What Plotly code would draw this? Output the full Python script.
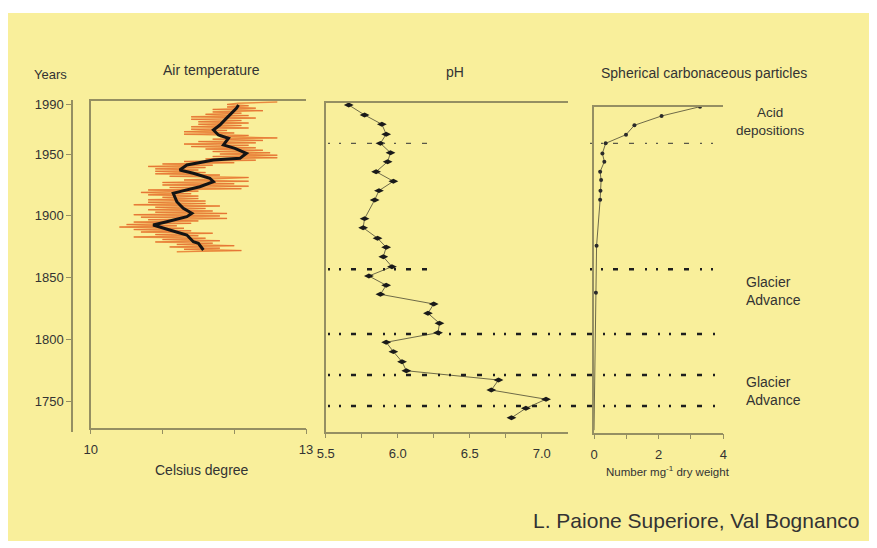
import plotly.graph_objects as go

W, H = 877, 548

# ---------------- data ----------------
temp_years = list(range(1871, 1993))
temp_annual = [
    11.2, 12.1, 11.3, 11.8, 11.1, 12.0, 11.2, 11.7, 10.9, 11.8,   # 1871-1880
    11.0, 11.6, 10.6, 11.5, 10.9, 11.7, 10.7, 11.4, 10.6, 11.3,   # 1881-1890
    10.4, 11.2, 10.5, 11.4, 10.6, 11.5, 10.8, 11.9, 10.7, 11.8,   # 1891-1900
    10.6, 11.9, 10.9, 11.7, 10.8, 11.6, 10.9, 11.8, 10.6, 11.6,   # 1901-1910
    10.8, 11.6, 10.8, 11.5, 11.0, 11.5, 10.8, 11.4, 10.7, 11.5,   # 1911-1920
    10.8, 12.1, 11.1, 12.2, 11.0, 12.0, 11.0, 12.2, 11.3, 11.9,   # 1921-1930
    12.2, 11.1, 11.8, 10.9, 11.6, 10.9, 11.5, 10.9, 11.6, 10.8,   # 1931-1940
    11.7, 11.0, 12.0, 11.3, 12.3, 11.6, 12.6, 11.7, 12.6, 11.8,   # 1941-1950
    12.5, 11.7, 12.4, 11.6, 12.3, 11.4, 12.2, 11.3, 12.3, 11.5,   # 1951-1960
    12.4, 11.7, 12.6, 11.8, 12.2, 11.3, 12.0, 11.3, 11.9, 11.4,   # 1961-1970
    12.2, 11.4, 12.1, 11.5, 12.2, 11.5, 12.1, 11.4, 12.3, 11.4,   # 1971-1980
    12.2, 11.6, 12.1, 11.7, 12.4, 11.7, 12.3, 11.9, 12.2, 11.9,   # 1981-1990
    12.05, 12.6,                                                  # 1991-1992
]

smooth_years = [1989.6, 1986.9, 1978.8, 1973.4, 1969.4, 1965.3, 1962.7, 1957.3,
                1954.6, 1950.6, 1946.5, 1945.2, 1941.1, 1937.1, 1934.4, 1930.4,
                1927.6, 1923.6, 1919.6, 1918.3, 1911.5, 1906.2, 1902.1, 1899.4,
                1895.3, 1892.7, 1888.6, 1884.6, 1879.2, 1877.9, 1872.5]
smooth_temp = [12.06, 12.03, 11.89, 11.80, 11.71, 11.78, 11.92, 11.85,
               12.01, 12.17, 12.08, 11.71, 11.34, 11.24, 11.43, 11.66,
               11.71, 11.52, 11.24, 11.15, 11.20, 11.29, 11.41, 11.34,
               11.06, 10.87, 11.10, 11.34, 11.43, 11.50, 11.57]

ph_years = [1989.6, 1981.5, 1974.0, 1966.0, 1958.6, 1951.0, 1943.8, 1935.7,
            1928.0, 1920.4, 1912.9, 1897.8, 1890.5, 1882.0, 1874.7, 1867.0,
            1859.0, 1851.5, 1844.0, 1836.7, 1828.9, 1821.4, 1813.3, 1805.7,
            1798.0, 1790.4, 1782.3, 1775.0, 1767.5, 1759.4, 1752.0, 1744.7,
            1737.0]
ph_values = [5.66, 5.77, 5.89, 5.92, 5.88, 5.95, 5.93, 5.85,
             5.97, 5.87, 5.84, 5.77, 5.76, 5.86, 5.92, 5.90,
             5.96, 5.80, 5.92, 5.88, 6.25, 6.21, 6.29, 6.28,
             5.92, 5.97, 6.03, 6.06, 6.70, 6.65, 7.03, 6.89,
             6.79]

scp_years = [1988.2, 1980.7, 1973.2, 1965.6, 1958.6, 1950.5, 1943.8, 1935.7,
             1929.0, 1920.4, 1913.0, 1876.0, 1838.0, 1727.0]
scp_values = [3.28, 2.09, 1.25, 0.99, 0.36, 0.26, 0.32, 0.19,
              0.22, 0.20, 0.19, 0.08, 0.06, 0.0]

acid_year = 1958.6
glacier_short_year = 1857.0
glacier_long_years = [1804.7, 1771.6, 1746.5]

year_ticks = [1750, 1800, 1850, 1900, 1950, 1990]
temp_ticks = [10, 13]
temp_minor = [11, 12]
ph_ticks = [5.5, 6.0, 6.5, 7.0]
ph_ticktext = ['5.5', '6.0', '6.5', '7.0']
ph_minor = [5.75, 6.25, 6.75]
scp_ticks = [0, 2, 4]
scp_minor = [1, 3]


# ---------------- layout helpers ----------------
# the page body adds an 8 px margin, so page pixels are shifted by 8
OX, OY = 8, 8


def fx(x):
    return (x - OX) / W


def fy(y):
    return 1 - (y - OY) / H


def yr(py):
    # page pixel row -> year (common vertical scale of the three panels)
    return 1950 + (154 - py) / 1.2385


AX = '#958f62'
TXT = '#333333'
FONT = 'Liberation Sans, Arial, sans-serif'

fig = go.Figure()

# Air temperature
fig.add_trace(go.Scatter(x=temp_annual, y=temp_years, mode='lines',
                         line=dict(color='#F3AC50', width=1.5),
                         xaxis='x', yaxis='y', hoverinfo='skip'))
fig.add_trace(go.Scatter(x=temp_annual, y=temp_years, mode='lines',
                         line=dict(color='#DE5F2E', width=0.5),
                         xaxis='x', yaxis='y', hoverinfo='skip'))
fig.add_trace(go.Scatter(x=smooth_temp, y=smooth_years, mode='lines',
                         line=dict(color='#141414', width=3),
                         xaxis='x', yaxis='y'))
# pH
fig.add_trace(go.Scatter(x=ph_values, y=ph_years, mode='lines+markers',
                         line=dict(color='#6e6a48', width=1),
                         marker=dict(symbol='diamond-wide', size=7, color='#1a1a1a'),
                         xaxis='x2', yaxis='y2'))
# SCP
fig.add_trace(go.Scatter(x=scp_values, y=scp_years, mode='lines',
                         line=dict(color='#6e6a48', width=1),
                         xaxis='x3', yaxis='y3'))
fig.add_trace(go.Scatter(x=scp_values[:-1], y=scp_years[:-1], mode='markers',
                         marker=dict(size=4, color='#2a2a2a'),
                         xaxis='x3', yaxis='y3'))
# carrier for the Years axis
fig.add_trace(go.Scatter(x=[None], y=[None], xaxis='x', yaxis='y4', hoverinfo='skip'))

common_x = dict(showline=True, linecolor=AX, linewidth=1.5, mirror=True,
                ticks='outside', ticklen=5, tickcolor=AX, tickwidth=1.2,
                showgrid=False, zeroline=False, fixedrange=True, automargin=False,
                tickfont=dict(size=13, color=TXT, family=FONT),
                ticklabelstandoff=4)
common_y = dict(showline=True, linecolor=AX, linewidth=1.5, ticks='',
                showticklabels=False, showgrid=False, zeroline=False,
                fixedrange=True, automargin=False)


def minor(vals):
    return dict(tickvals=vals, ticks='outside', ticklen=5, tickcolor=AX,
                tickwidth=1.2, showgrid=False)


fig.update_layout(
    template='none',
    width=W, height=H,
    margin=dict(l=0, r=0, t=0, b=0, pad=0),
    paper_bgcolor='white',
    plot_bgcolor='rgba(0,0,0,0)',
    showlegend=False,
    font=dict(family=FONT, color=TXT, size=13),
    xaxis=dict(domain=[fx(90.7), fx(306)], range=[10, 13], anchor='y',
               tickvals=temp_ticks, minor=minor(temp_minor), **common_x),
    yaxis=dict(domain=[fy(427.7), fy(100.7)], range=[yr(427.7), yr(100.7)],
               anchor='x', **common_y),
    xaxis2=dict(domain=[fx(325.7), fx(568)], range=[5.5, 5.5 + (568 - 325.7) / 144],
                anchor='y2', tickvals=ph_ticks, ticktext=ph_ticktext,
                minor=minor(ph_minor), **common_x),
    yaxis2=dict(domain=[fy(431.7), fy(102.7)], range=[yr(431.7), yr(102.7)],
                anchor='x2', **common_y),
    xaxis3=dict(domain=[fx(594), fx(723.3)], range=[0, 4], anchor='y3',
                tickvals=scp_ticks, minor=minor(scp_minor), **common_x),
    yaxis3=dict(domain=[fy(432.7), fy(106.7)], range=[yr(432.7), yr(106.7)],
                anchor='x3', **common_y),
    yaxis4=dict(domain=[fy(432), fy(100)], range=[yr(432), yr(100)],
                anchor='free', position=fx(72), side='left',
                showline=True, linecolor=AX, linewidth=1.5,
                ticks='outside', ticklen=5, tickcolor=AX, tickwidth=1.2,
                tickvals=year_ticks, showgrid=False, zeroline=False,
                fixedrange=True, automargin=False,
                tickfont=dict(size=13, color=TXT, family=FONT)),
)

shapes = [dict(type='rect', xref='paper', yref='paper', layer='below',
               x0=fx(8), x1=fx(869), y0=fy(541), y1=fy(13),
               fillcolor='#F9EF9B', line=dict(width=0))]

DASH = '2px,9px,2px,10px,5px,11px,5px,11px'


def hline(year, x0, x1, width, color):
    return dict(type='line', xref='paper', yref='y2', x0=fx(x0), x1=fx(x1),
                y0=year, y1=year, line=dict(color=color, width=width, dash=DASH))


# acid deposition line (thin)
shapes.append(hline(acid_year, 328, 430, 1.3, '#5a5848'))
shapes.append(hline(acid_year, 590, 720, 1.3, '#5a5848'))
# glacier advance lines
shapes.append(hline(glacier_short_year, 328, 430, 2.6, '#1e1e1e'))
shapes.append(hline(glacier_short_year, 590, 720, 2.6, '#1e1e1e'))
for gy in glacier_long_years:
    shapes.append(hline(gy, 328, 720, 2.6, '#1e1e1e'))
fig.update_layout(shapes=shapes)


def ann(text, x, y, size=13, xanchor='center', align='center'):
    return dict(text=text, x=fx(x), y=fy(y), xref='paper', yref='paper',
                showarrow=False, xanchor=xanchor, yanchor='middle', align=align,
                font=dict(size=size, color=TXT, family=FONT))


annotations = [
    ann('Years', 50, 74),
    ann('Air temperature', 211.7, 70, size=14),
    ann('pH', 455, 72, size=14),
    ann('Spherical carbonaceous particles', 704, 73, size=14),
    ann('Acid<br>depositions', 770, 121, size=13.5),
    ann('Glacier<br>Advance', 744, 291, size=14, xanchor='left', align='left'),
    ann('Glacier<br>Advance', 744, 391, size=14, xanchor='left', align='left'),
    ann('Celsius degree', 201.7, 470, size=14),
    ann('Number mg<sup>-1</sup> dry weight', 668, 471, size=11.5),
    ann('L. Paione Superiore, Val Bognanco', 696.5, 520, size=21),
]
fig.update_layout(annotations=annotations)

fig.write_html('out.html')
